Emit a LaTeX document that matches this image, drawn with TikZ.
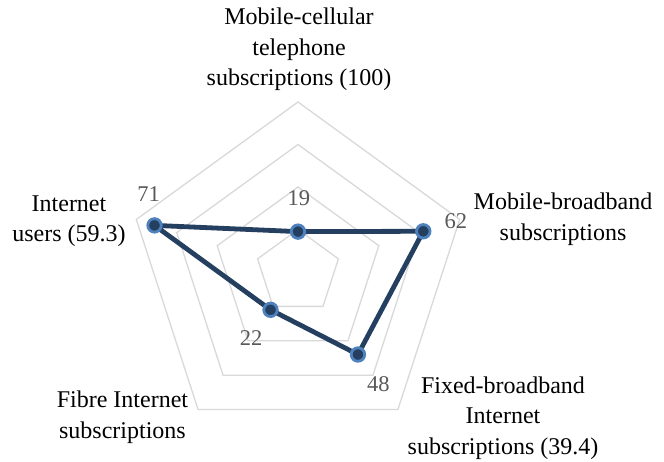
\documentclass[tikz,border=0pt]{standalone}
\usepackage{fontspec}
\setmainfont{Liberation Serif}
\usetikzlibrary{calc,positioning}

\definecolor{gridgray}{HTML}{D9D9D9}
\definecolor{navy}{HTML}{243F60}
\definecolor{ringblue}{HTML}{4F81BD}
\definecolor{valgray}{HTML}{595959}

\begin{document}
\begin{tikzpicture}[
    x=1pt, y=1pt,
    grid/.style={draw=gridgray, line width=1.3pt, line join=miter},
    dataline/.style={draw=navy, line width=4.8pt, line join=round},
    dot/.style={circle, draw=ringblue, fill=navy, line width=2.8pt,
        minimum size=13.5pt, inner sep=0pt},
    cat/.style={align=center, font={\fontsize{24}{30.5}\selectfont}, inner sep=0pt},
    val/.style={text=valgray, font={\fontsize{22.5}{26}\selectfont}, inner sep=0pt},
 ]
    \path[fill=white, use as bounding box] (-298,-189) rectangle (366,272);

    % rings at 20, 40, 60, 80
    \foreach \r in {1,...,4}
        \draw[grid] (90:{\r*42.5}) -- (18:{\r*42.5}) -- (-54:{\r*42.5})
            -- (-126:{\r*42.5}) -- (162:{\r*42.5}) -- cycle;

    \coordinate (mc) at (90:40.375);
    \coordinate (mb) at (18:131.75);
    \coordinate (fb) at (-54:102);
    \coordinate (fi) at (-126:46.75);
    \coordinate (iu) at (162:150.875);

    \draw[dataline] (mc) -- (mb) -- (fb) -- (fi) -- (iu) -- cycle;
    \foreach \p in {mc,mb,fb,fi,iu}
        \node[dot] (\p-dot) at (\p) {};

    \node[val] (mc-val) at ($(mc)+(1,33)$) {19};
    \node[val] (mb-val) at ($(mb)+(32.5,10.5)$) {62};
    \node[val] (fb-val) at ($(fb)+(20.3,-29.5)$) {48};
    \node[val] (fi-val) at ($(fi)+(-19.5,-28.5)$) {22};
    \node[val] (iu-val) at ($(iu)+(-6,31)$) {71};

    \node[cat] (mc-lab) at (1,222.5) {Mobile-cellular\\telephone\\subscriptions (100)};
    \node[cat] (mb-lab) at (265,53) {Mobile-broadband\\subscriptions};
    \node[cat] (fb-lab) at (205,-146) {Fixed-broadband\\Internet\\subscriptions (39.4)};
    \node[cat] (fi-lab) at (-175.5,-145) {Fibre Internet\\subscriptions};
    \node[cat] (iu-lab) at (-229,51) {Internet\\users (59.3)};

\end{tikzpicture}
\end{document}
